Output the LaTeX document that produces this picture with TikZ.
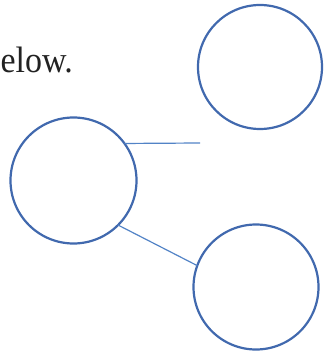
\documentclass[tikz,border=0pt]{standalone}
\usepackage{fontspec}
\setmainfont{Liberation Serif}
\definecolor{ringblue}{HTML}{4169AE}
\definecolor{linkblue}{HTML}{5283C6}
\definecolor{inkgray}{HTML}{222222}
\begin{document}
\begin{tikzpicture}[x=1pt,y=-1pt,
  ring/.style={circle,draw=ringblue,line width=2.2pt,inner sep=0pt,outer sep=0pt},
  link/.style={draw=linkblue,line width=1.2pt}]
\useasboundingbox (0,0) rectangle (323,352);
\node[anchor=base east,inner sep=0pt,text=inkgray,font=\fontsize{35}{40}\selectfont] (txt) at (73,73) {\scalebox{0.97}[1.05]{elow.}};
\node[ring,minimum size=124pt] (TR) at (260,67) {};
\node[ring,minimum size=126pt] (L) at (73.5,180.5) {};
\node[ring,minimum size=125pt] (BR) at (256,287) {};
\coordinate (E1) at (200,143);
\draw[link] (L.36) -- (E1);
\draw[link] (L.-45.5) -- (BR.160);
\end{tikzpicture}
\end{document}
